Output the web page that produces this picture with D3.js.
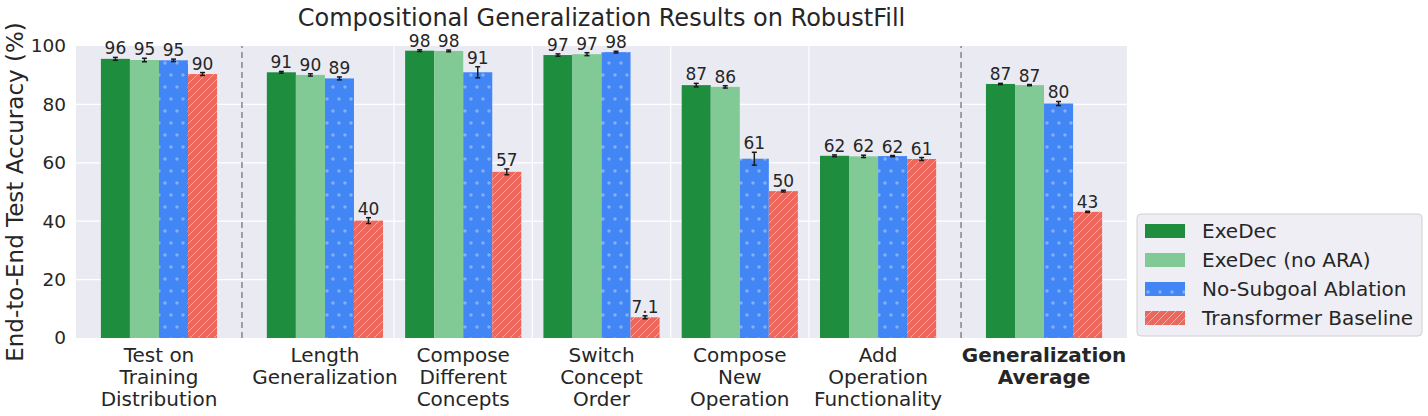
<!DOCTYPE html>
<html>
<head>
<meta charset="utf-8">
<script src="https://cdn.jsdelivr.net/npm/d3@7"></script>
<style>
  body { margin: 0; background: #fff; }
  text { font-family: "DejaVu Sans", sans-serif; fill: #262626; }
</style>
</head>
<body>
<svg id="chart" width="1428" height="416"></svg>
<script>
// categories and their slot positions (gaps before first and last)
let categories = [
  ["Test on", "Training", "Distribution"],
  ["Length", "Generalization"],
  ["Compose", "Different", "Concepts"],
  ["Switch", "Concept", "Order"],
  ["Compose", "New", "Operation"],
  ["Add", "Operation", "Functionality"],
  ["Generalization", "Average"]
];
let slots = [0, 1.2, 2.2, 3.2, 4.2, 5.2, 6.4];

let seriesNames = ["ExeDec", "ExeDec (no ARA)", "No-Subgoal Ablation", "Transformer Baseline"];

let exedec     = [95.6, 91.0, 98.4, 96.9, 86.6, 62.4, 87.0];
let exedecNoAra = [95.2, 90.1, 98.3, 97.2, 86.0, 62.2, 86.6];
let noSubgoal  = [95.1, 88.9, 91.0, 97.9, 61.4, 62.3, 80.3];
let transformer = [90.4, 40.2, 56.9, 7.1, 50.3, 61.3, 43.2];

let exedecErr     = [0.5, 0.3, 0.3, 0.4, 0.6, 0.3, 0.2];
let exedecNoAraErr = [0.6, 0.4, 0.3, 0.5, 0.4, 0.4, 0.2];
let noSubgoalErr  = [0.4, 0.5, 1.9, 0.3, 2.2, 0.2, 0.7];
let transformerErr = [0.5, 1.0, 1.0, 0.5, 0.3, 0.5, 0.2];

let yTicks = [0, 20, 40, 60, 80, 100];

let series = [exedec, exedecNoAra, noSubgoal, transformer];
let errors = [exedecErr, exedecNoAraErr, noSubgoalErr, transformerErr];
let colors = ["#1e8e3e", "#81c995", "#4285f4", "#ee675c"];
let fills = ["#1e8e3e", "#81c995", "url(#dots)", "url(#hatch)"];

let margin = {left: 76, right: 1428 - 1127, top: 46, bottom: 416 - 338};
let svg = d3.select('#chart');
let W = 1428, H = 416;

let x = d3.scaleLinear().domain([-0.6, 7.0]).range([margin.left, W - margin.right]);
let y = d3.scaleLinear().domain([0, 100]).range([H - margin.bottom, margin.top]);
let barW = 0.21;

// patterns
let defs = svg.append('defs');
let dots = defs.append('pattern')
  .attr('id', 'dots').attr('patternUnits', 'userSpaceOnUse')
  .attr('width', 12).attr('height', 24);
dots.append('rect').attr('width', 12).attr('height', 24).attr('fill', colors[2]);
[[3, 3], [9, 15]].forEach(p => {
  dots.append('circle').attr('cx', p[0]).attr('cy', p[1]).attr('r', 1.7)
    .attr('fill', '#ffffff').attr('fill-opacity', 0.35);
});
let hatch = defs.append('pattern')
  .attr('id', 'hatch').attr('patternUnits', 'userSpaceOnUse')
  .attr('width', 8).attr('height', 8);
hatch.append('rect').attr('width', 8).attr('height', 8).attr('fill', colors[3]);
hatch.append('path').attr('d', 'M-2,2 L2,-2 M0,8 L8,0 M6,10 L10,6')
  .attr('stroke', '#ffffff').attr('stroke-opacity', 0.45).attr('stroke-width', 1);

// plot background
svg.append('rect')
  .attr('x', x(-0.6)).attr('y', y(100))
  .attr('width', x(7.0) - x(-0.6)).attr('height', y(0) - y(100))
  .attr('fill', '#eaeaf2');

// grid
svg.append('g').selectAll('line').data(yTicks.slice(1, -1)).enter().append('line')
  .attr('x1', x(-0.6)).attr('x2', x(7.0))
  .attr('y1', d => y(d)).attr('y2', d => y(d))
  .attr('stroke', '#fff').attr('stroke-width', 1.2);
svg.append('g').selectAll('line').data([1.7, 2.7, 3.7, 4.7]).enter().append('line')
  .attr('x1', d => x(d)).attr('x2', d => x(d))
  .attr('y1', y(0)).attr('y2', y(100))
  .attr('stroke', '#fff').attr('stroke-width', 1.2);

// dashed separators
svg.append('g').selectAll('line').data([0.6, 5.8]).enter().append('line')
  .attr('x1', d => x(d)).attr('x2', d => x(d))
  .attr('y1', y(0)).attr('y2', y(100))
  .attr('stroke', '#8c8c8c').attr('stroke-width', 1.6).attr('stroke-dasharray', '6,4');

// bars
let fmt = d3.format('.2r');
series.forEach((vals, s) => {
  let g = svg.append('g');
  let off = (s - 1.5) * barW;
  g.selectAll('rect').data(vals).enter().append('rect')
    .attr('x', (d, i) => x(slots[i] + off - barW / 2))
    .attr('width', x(barW) - x(0))
    .attr('y', d => y(d))
    .attr('height', d => y(0) - y(d))
    .attr('fill', fills[s]);

  let eg = g.selectAll('g.err').data(vals).enter().append('g')
    .attr('stroke', '#1a1a1a').attr('stroke-width', 1.5);
  eg.append('line')
    .attr('x1', (d, i) => x(slots[i] + off)).attr('x2', (d, i) => x(slots[i] + off))
    .attr('y1', (d, i) => y(d - errors[s][i])).attr('y2', (d, i) => y(d + errors[s][i]));
  [-1, 1].forEach(sign => {
    eg.append('line')
      .attr('x1', (d, i) => x(slots[i] + off) - 2.5).attr('x2', (d, i) => x(slots[i] + off) + 2.5)
      .attr('y1', (d, i) => y(d + sign * errors[s][i]))
      .attr('y2', (d, i) => y(d + sign * errors[s][i]));
  });

  g.selectAll('text').data(vals).enter().append('text')
    .attr('x', (d, i) => x(slots[i] + off))
    .attr('y', (d, i) => y(d + errors[s][i]) - 3)
    .attr('text-anchor', 'middle')
    .attr('font-size', '17px')
    .text(d => fmt(d));
});

// y axis
let yAxis = svg.append('g');
yAxis.selectAll('text').data(yTicks).enter().append('text')
  .attr('x', margin.left - 10)
  .attr('y', d => y(d))
  .attr('dy', '0.35em')
  .attr('text-anchor', 'end')
  .attr('font-size', '18.5px')
  .text(d => d);

svg.append('text')
  .attr('transform', 'translate(23,' + (y(50)) + ') rotate(-90)')
  .attr('text-anchor', 'middle')
  .attr('font-size', '23px')
  .text('End-to-End Test Accuracy (%)');

// x axis labels
let xl = svg.append('g').selectAll('text').data(categories).enter().append('text')
  .attr('x', (d, i) => x(slots[i]))
  .attr('y', 362)
  .attr('text-anchor', 'middle')
  .attr('font-size', '20px')
  .attr('font-weight', (d, i) => i === categories.length - 1 ? 'bold' : 'normal');
xl.selectAll('tspan').data(d => d).enter().append('tspan')
  .attr('x', function() { return this.parentNode.getAttribute('x'); })
  .attr('dy', (d, j) => j === 0 ? 0 : 22)
  .text(d => d);

// title
svg.append('text')
  .attr('x', (x(-0.6) + x(7.0)) / 2)
  .attr('y', 25.5)
  .attr('text-anchor', 'middle')
  .attr('font-size', '24px')
  .text('Compositional Generalization Results on RobustFill');

// legend
let legend = svg.append('g').attr('transform', 'translate(1137,214)');
legend.append('rect')
  .attr('width', 285).attr('height', 122).attr('rx', 4)
  .attr('fill', '#eeeef4').attr('stroke', '#d0d0d0');
let items = legend.selectAll('g').data(seriesNames).enter().append('g')
  .attr('transform', (d, i) => 'translate(8,' + (17 + i * 29) + ')');
items.append('rect')
  .attr('x', 0).attr('y', -7).attr('width', 40).attr('height', 14)
  .attr('fill', (d, i) => fills[i]);
items.append('text')
  .attr('x', 57).attr('dy', '0.35em')
  .attr('font-size', '20px')
  .text(d => d);
</script>
</body>
</html>
